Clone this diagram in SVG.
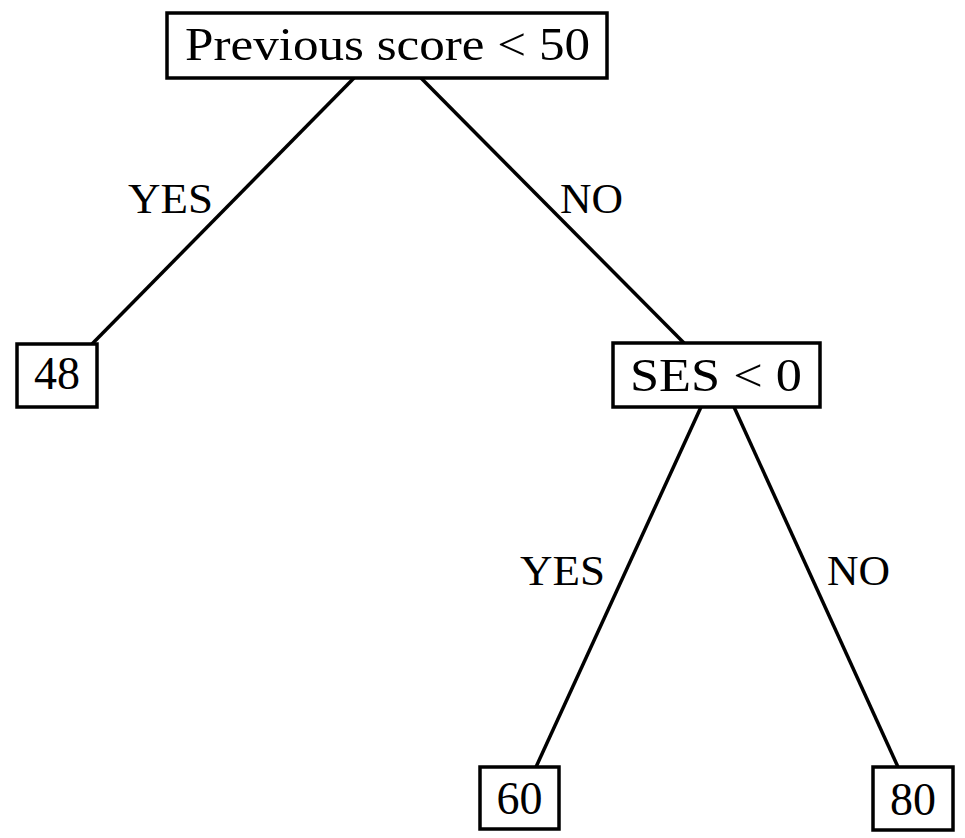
<svg xmlns="http://www.w3.org/2000/svg" width="965" height="838" viewBox="0 0 965 838">
<style>
.box{fill:#fff;stroke:#000;stroke-width:3.5}
.edge{stroke:#000;stroke-width:3.5;fill:none}
text{font-family:"Liberation Serif","DejaVu Serif",serif;font-size:46px;fill:#000}
.lbl{font-size:42px}
</style>
<rect width="965" height="838" fill="#fff"/>
<g id="connectors">
<line class="edge" x1="354" y1="78" x2="92" y2="344"/>
<line class="edge" x1="421" y1="78" x2="684" y2="343"/>
<line class="edge" x1="701" y1="407" x2="536" y2="767"/>
<line class="edge" x1="734" y1="407" x2="898" y2="767"/>
<text class="lbl" x="128" y="213" textLength="85" lengthAdjust="spacingAndGlyphs">YES</text>
<text class="lbl" x="560" y="213" textLength="63" lengthAdjust="spacingAndGlyphs">NO</text>
<text class="lbl" x="520" y="585" textLength="85" lengthAdjust="spacingAndGlyphs">YES</text>
<text class="lbl" x="827" y="585" textLength="63" lengthAdjust="spacingAndGlyphs">NO</text>
</g>
<g id="root">
<rect class="box" x="167" y="13" width="440" height="65"/>
<text x="185" y="60" textLength="405" lengthAdjust="spacingAndGlyphs">Previous score &lt; 50</text>
</g>
<g id="leaf48">
<rect class="box" x="17" y="344" width="80" height="63"/>
<text x="57" y="389" text-anchor="middle">48</text>
</g>
<g id="ses">
<rect class="box" x="613" y="343" width="207" height="64"/>
<text x="630" y="391" textLength="172" lengthAdjust="spacingAndGlyphs">SES &lt; 0</text>
</g>
<g id="leaf60">
<rect class="box" x="480" y="767" width="79" height="62"/>
<text x="519.5" y="814" text-anchor="middle">60</text>
</g>
<g id="leaf80">
<rect class="box" x="873" y="767" width="80" height="63"/>
<text x="913" y="815" text-anchor="middle">80</text>
</g>
</svg>
